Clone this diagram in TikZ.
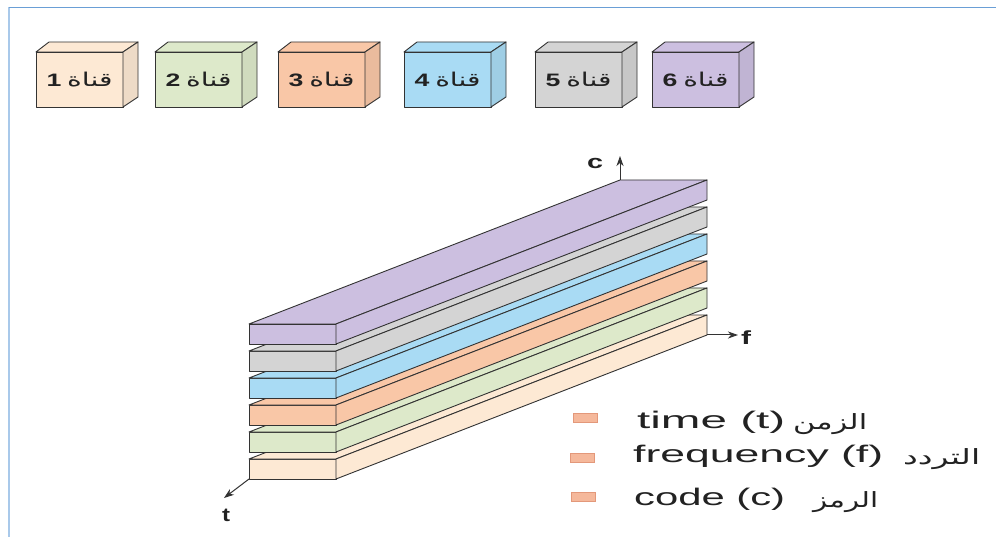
\documentclass[tikz,border=0pt]{standalone}
\usepackage{fontspec}
\usepackage{graphicx}
\usetikzlibrary{calc,arrows.meta}
\TeXXeTstate=1
\newfontfamily\arabicfont[Script=Arabic]{DejaVu Sans}
\newfontfamily\latinfont{Liberation Sans}

% channel colours
\definecolor{chA}{HTML}{FDE9D4}
\definecolor{chB}{HTML}{DDE9CA}
\definecolor{chC}{HTML}{F9C7A7}
\definecolor{chD}{HTML}{A9DBF4}
\definecolor{chE}{HTML}{D4D4D4}
\definecolor{chF}{HTML}{CCBFE0}
\definecolor{edge}{HTML}{333333}
\definecolor{ink}{HTML}{222222}
\definecolor{frameTop}{HTML}{6A9FD6}
\definecolor{frameLeft}{HTML}{A9C9EA}
\definecolor{keysq}{HTML}{F5B89B}
\definecolor{keyedge}{HTML}{E3987A}

% stretch a text horizontally to a given width (in pt), keeping its height
\newcommand\fitto[2]{\resizebox{#1pt}{\height}{#2}}

\tikzset{
  faceline/.style={draw=edge, line width=0.9pt, line join=round},
  chface/.style={faceline, rectangle, anchor=north west, inner sep=0pt, outer sep=0pt,
    minimum width=87pt, minimum height=55pt, text=ink},
  slabface/.style={faceline, rectangle, anchor=north west, inner sep=0pt, outer sep=0pt,
    minimum width=87pt, minimum height=20pt},
  axis/.style={draw=edge, line width=1pt, -{Stealth[length=10pt,width=7pt,inset=3pt]}},
  axlabel/.style={inner sep=0pt, text=ink, font=\latinfont\bfseries\fontsize{19}{19}\selectfont},
  keysquare/.style={rectangle, draw=keyedge, fill=keysq, line width=0.6pt,
    minimum width=24pt, minimum height=9pt, inner sep=0pt},
  keytext/.style={inner sep=0pt, anchor=base west, text=ink,
    font=\latinfont\fontsize{24}{24}\selectfont},
  keyarabic/.style={inner sep=0pt, anchor=base west, text=ink,
    font=\arabicfont\fontsize{21}{21}\selectfont},
}

% a channel block: name, left x, colour, number
\newcommand\chanblock[4]{%
  \node[chface, fill=#3] (#1) at (#2,52)
    {\fitto{66}{\beginR{\arabicfont\fontsize{19}{19}\selectfont قناة}\hspace{4pt}{\latinfont\bfseries\fontsize{18}{18}\selectfont #4}\endR}};
  \filldraw[faceline, fill=#3] (#1.north west) -- ++(13,-10)
    -- ($(#1.north east)+(15,-10)$) -- (#1.north east) -- cycle;
  \filldraw[faceline, fill=#3!94!black] (#1.north east) -- ($(#1.north east)+(15,-10)$)
    -- ($(#1.south east)+(15,-10)$) -- (#1.south east) -- cycle;
}

% a slab of the channel stack: name, front top y, colour
\newcommand\slab[3]{%
  \node[slabface, fill=#3] (#1) at (249,#2) {};
  \filldraw[faceline, fill=#3] (#1.north west) -- (#1.north east)
    -- ($(#1.north east)+(371,-144)$) -- ($(#1.north west)+(371,-144)$) -- cycle;
  \filldraw[faceline, fill=#3] (#1.north east) -- ($(#1.north east)+(371,-144)$)
    -- ($(#1.south east)+(371,-144)$) -- (#1.south east) -- cycle;
}

\begin{document}
\begin{tikzpicture}[x=1pt,y=-1pt]
  \useasboundingbox (0,0) rectangle (996,537);
  \fill[white] (0,0) rectangle (996,537);

  % page frame
  \draw[frameLeft, line width=2pt] (9,7) -- (9,537);
  \draw[frameTop, line width=1pt] (9,7.5) -- (996,7.5);

  % channel blocks
  \chanblock{ch1}{36}{chA}{1}
  \chanblock{ch2}{155}{chB}{2}
  \chanblock{ch3}{278}{chC}{3}
  \chanblock{ch4}{404}{chD}{4}
  \chanblock{ch5}{535}{chE}{5}
  \chanblock{ch6}{652}{chF}{6}

  % stack of channels, bottom to top
  \slab{s1}{459}{chA}
  \slab{s2}{432}{chB}
  \slab{s3}{405}{chC}
  \slab{s4}{378}{chD}
  \slab{s5}{351}{chE}
  \slab{s6}{324}{chF}

  % axes
  \coordinate (cO) at ($(s6.north west)+(371,-144)$);
  \coordinate (cE) at (620,156);
  \coordinate (fO) at ($(s1.south east)+(371,-144)$);
  \coordinate (fE) at (738,335);
  \coordinate (tE) at (224,498);
  \draw[axis] (cO) -- (cE);
  \draw[axis] (fO) -- (fE);
  \draw[axis] (s1.south west) -- (tE);
  \node[axlabel] (lc) at (595,163) {\fitto{16}{c}};
  \node[axlabel] (lf) at (746,338) {\fitto{10}{f}};
  \node[axlabel] (lt) at (226,515) {\fitto{8}{t}};

  % key
  \node[keysquare] (k1) at (585,417.5) {};
  \node[keysquare] (k2) at (582,457.5) {};
  \node[keysquare] (k3) at (583,497) {};
  \node[keytext] (kt1) at (637,428) {\fitto{148}{time (t)}};
  \node[keytext] (kt2) at (633,462) {\fitto{250}{frequency (f)}};
  \node[keytext] (kt3) at (634,505) {\fitto{151}{code (c)}};
  \node[keyarabic] (ka1) at (793,429) {\fitto{74}{\beginR الزمن\endR}};
  \node[keyarabic] (ka2) at (903,464) {\fitto{77}{\beginR التردد\endR}};
  \node[keyarabic] (ka3) at (813,507) {\fitto{65}{\beginR الرمز\endR}};
\end{tikzpicture}
\end{document}
